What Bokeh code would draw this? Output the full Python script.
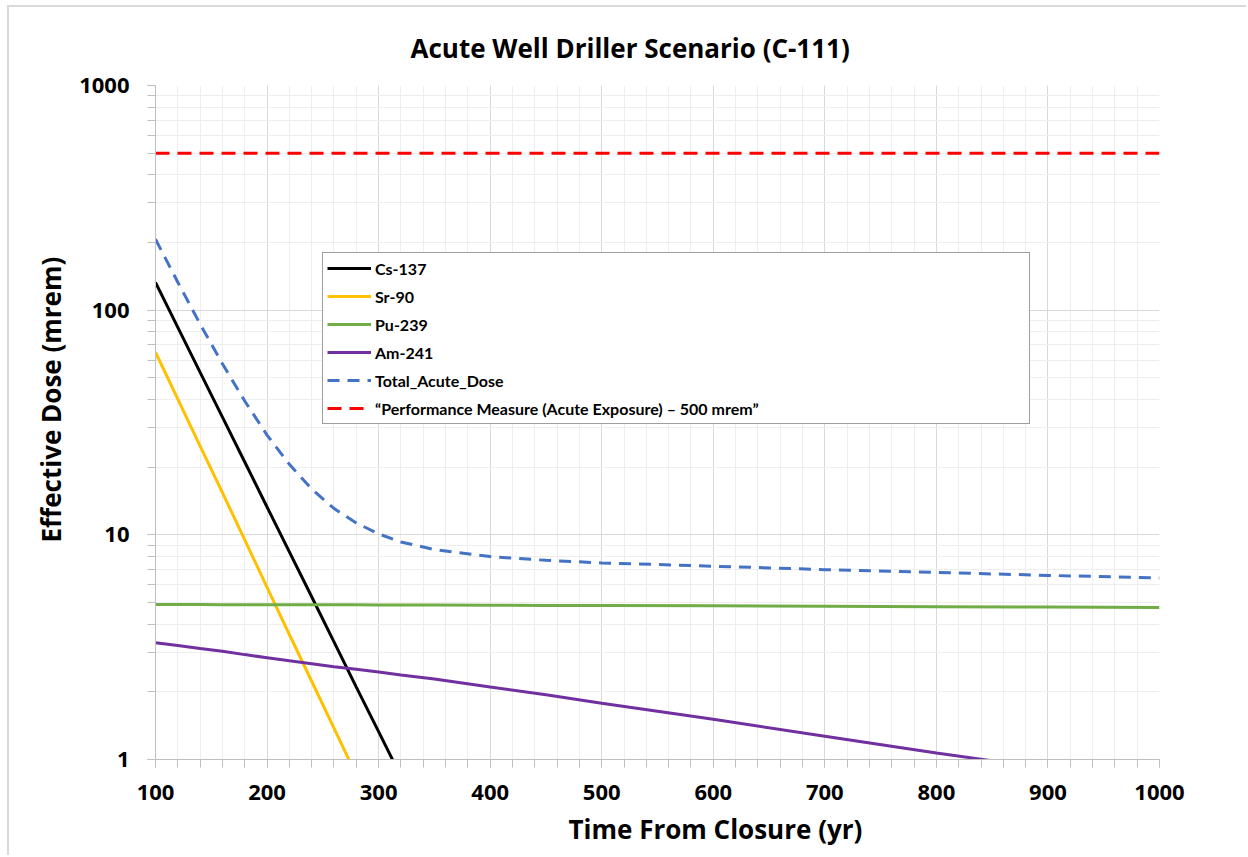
from bokeh.plotting import figure
from bokeh.models import Range1d, FixedTicker, NumeralTickFormatter, Legend, LegendItem, Title
from bokeh.embed import file_html
from bokeh.resources import INLINE

# ---- data ----
years = [100, 120, 140, 160, 180, 200, 220, 240, 260, 280, 300, 320, 350, 400, 450, 500, 600, 700, 800, 900, 1000]
cs137 = [133, 83.9, 52.9, 33.4, 21.1, 13.3, 8.4, 5.3, 3.34, 2.1, 1.33, 0.84, 0.42, 0.13, 0.04, 0.013, 0.0013, 0.00013, 1.3e-5, 1.3e-6, 1.3e-7]
sr90 = [65, 40.2, 24.8, 15.4, 9.5, 5.84, 3.6, 2.23, 1.38, 0.85, 0.53, 0.33, 0.16, 0.05, 0.015, 0.005, 5e-4, 5e-5, 5e-6, 5e-7, 5e-8]
pu239 = [4.9, 4.9, 4.9, 4.89, 4.89, 4.89, 4.88, 4.88, 4.88, 4.88, 4.87, 4.87, 4.87, 4.86, 4.85, 4.85, 4.83, 4.81, 4.79, 4.77, 4.75]
am241 = [3.31, 3.22, 3.12, 3.03, 2.93, 2.84, 2.75, 2.67, 2.59, 2.52, 2.45, 2.38, 2.28, 2.10, 1.94, 1.78, 1.51, 1.27, 1.07, 0.91, 0.77]
total = [207, 133.2, 86.7, 57.7, 39.4, 27.8, 20.6, 16.0, 13.1, 11.3, 10.1, 9.3, 8.6, 8.0, 7.7, 7.5, 7.25, 7.0, 6.8, 6.6, 6.43]
limit_years = [100, 1000]
limit = [500, 500]

series_names = ["Cs-137", "Sr-90", "Pu-239", "Am-241", "Total_Acute_Dose",
                "\u201cPerformance Measure (Acute Exposure) \u2013 500 mrem\u201d"]
chart_title = "Acute Well Driller Scenario (C-111)"
x_label = "Time From Closure (yr)"
y_label = "Effective Dose (mrem)"

FONT = "Open Sans"
LEGEND_FONT = "Lato"

p = figure(width=1239, height=850, y_axis_type="log",
           x_range=Range1d(100, 1000), y_range=Range1d(1, 1000),
           output_backend="svg", toolbar_location=None,
           min_border_left=146, min_border_right=89, min_border_top=78, min_border_bottom=98,
           title=chart_title)
p.margin = (5, 0, 0, 7)
p.styles = {"border-top": "2px solid #d9d9d9", "border-left": "2px solid #d9d9d9"}

p.title.align = "left"
p.title.offset = 255
p.title.text_font = FONT
p.title.text_font_size = "26px"
p.title.text_font_style = "bold"
p.title.text_color = "#000000"
p.title.standoff = 40

p.outline_line_color = None
p.background_fill_color = "white"
p.border_fill_color = "white"

# axes
p.xaxis.ticker = FixedTicker(ticks=list(range(100, 1001, 100)), minor_ticks=list(range(100, 1001, 20)))
p.yaxis.ticker = FixedTicker(ticks=[1, 10, 100, 1000],
                             minor_ticks=[m * d for d in (1, 10, 100) for m in range(1, 10)] + [1000])
p.yaxis.formatter = NumeralTickFormatter(format="0")
for ax in (p.xaxis, p.yaxis):
    ax.axis_line_color = "#bfbfbf"
    ax.axis_line_width = 1
    ax.major_tick_line_color = "#bfbfbf"
    ax.minor_tick_line_color = "#bfbfbf"
    ax.major_tick_in = 0
    ax.major_tick_out = 8
    ax.minor_tick_in = 0
    ax.minor_tick_out = 8
    ax.major_label_text_font = FONT
    ax.major_label_text_font_size = "22px"
    ax.major_label_text_font_style = "bold"
    ax.major_label_text_color = "#000000"
p.xaxis.major_label_standoff = 17
p.yaxis.major_label_standoff = 18

# axis titles (placed off-centre as in the reference)
xt = Title(text=x_label, align="left", offset=413, standoff=13,
           text_font=FONT, text_font_size="26px", text_font_style="bold", text_color="#000000")
p.add_layout(xt, "below")
yt = Title(text=y_label, align="left", offset=217, standoff=16,
           text_font=FONT, text_font_size="26px", text_font_style="bold", text_color="#000000")
p.add_layout(yt, "left")

# grids
p.xgrid.grid_line_color = "#d9d9d9"
p.ygrid.grid_line_color = "#d9d9d9"
p.xgrid.minor_grid_line_color = "#eeeeee"
p.ygrid.minor_grid_line_color = "#eeeeee"

r_cs = p.line(years, cs137, line_color="black", line_width=3)
r_sr = p.line(years, sr90, line_color="#FFC000", line_width=3)
r_pu = p.line(years, pu239, line_color="#70AD47", line_width=3)
r_am = p.line(years, am241, line_color="#7030A0", line_width=3)
r_tot = p.line(years, total, line_color="#4472C4", line_width=3, line_dash="12 8")
r_lim = p.line(limit_years, limit, line_color="#FF0000", line_width=3, line_dash="14 8")

legend = Legend(items=[LegendItem(label=n, renderers=[r]) for n, r in
                       zip(series_names, [r_cs, r_sr, r_pu, r_am, r_tot, r_lim])],
                location=(167, 335))
legend.border_line_color = "#404040"
legend.border_line_width = 1.5
legend.background_fill_alpha = 1
legend.label_text_font = LEGEND_FONT
legend.label_text_font_size = "16px"
legend.label_text_font_style = "bold"
legend.label_text_color = "#000000"
legend.glyph_width = 44
legend.glyph_height = 22
legend.label_height = 22
legend.spacing = 6
legend.padding = 4
legend.margin = 0
legend.label_standoff = 4
legend.label_width = 650
p.add_layout(legend, "center")

open("out.html", "w").write(file_html(p, INLINE))
